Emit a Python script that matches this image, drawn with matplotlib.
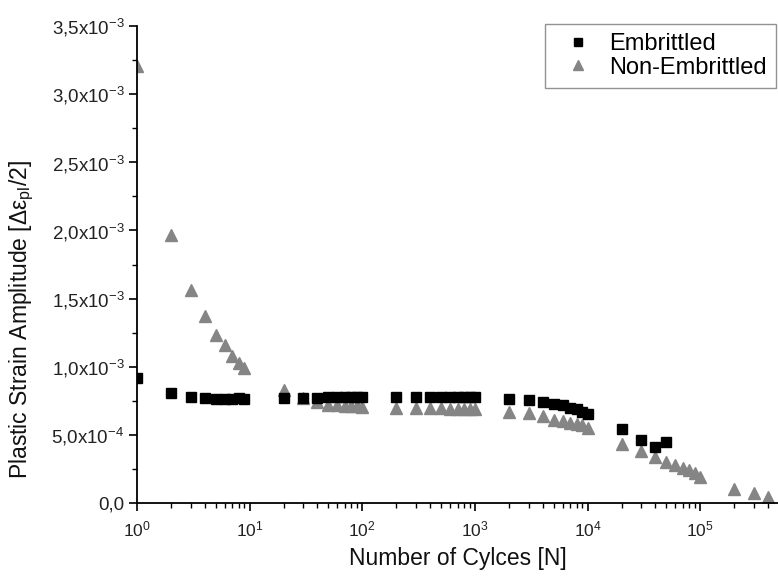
import matplotlib
matplotlib.use("Agg")
import matplotlib.pyplot as plt
from matplotlib.ticker import FixedLocator, LogLocator, NullFormatter

plt.rcParams['font.family'] = ['Liberation Sans', 'DejaVu Sans']
plt.rcParams['mathtext.fontset'] = 'custom'
plt.rcParams['mathtext.rm'] = 'Liberation Sans'
plt.rcParams['mathtext.it'] = 'Liberation Sans'

# Embrittled
emb_n = [1, 2, 3, 4, 5, 6, 7, 8, 9,
         20, 30, 40, 50, 60, 70, 80, 90, 100,
         200, 300, 400, 500, 600, 700, 800, 900, 1000,
         2000, 3000, 4000, 5000, 6000, 7000, 8000, 9000, 10000,
         20000, 30000, 40000, 50000]
emb_v = [0.92e-3, 0.81e-3, 0.78e-3, 0.77e-3, 0.76e-3, 0.765e-3, 0.765e-3, 0.77e-3, 0.765e-3,
         0.77e-3, 0.77e-3, 0.77e-3, 0.78e-3, 0.78e-3, 0.78e-3, 0.78e-3, 0.78e-3, 0.78e-3,
         0.78e-3, 0.78e-3, 0.78e-3, 0.78e-3, 0.775e-3, 0.775e-3, 0.775e-3, 0.775e-3, 0.775e-3,
         0.76e-3, 0.755e-3, 0.74e-3, 0.73e-3, 0.72e-3, 0.70e-3, 0.69e-3, 0.67e-3, 0.65e-3,
         0.54e-3, 0.46e-3, 0.41e-3, 0.45e-3]

# Non-Embrittled
non_n = [1, 2, 3, 4, 5, 6, 7, 8, 9,
         20, 30, 40, 50, 60, 70, 80, 90, 100,
         200, 300, 400, 500, 600, 700, 800, 900, 1000,
         2000, 3000, 4000, 5000, 6000, 7000, 8000, 9000, 10000,
         20000, 30000, 40000, 50000, 60000, 70000, 80000, 90000, 100000,
         200000, 300000, 400000]
non_v = [3.21e-3, 1.97e-3, 1.56e-3, 1.37e-3, 1.23e-3, 1.16e-3, 1.08e-3, 1.03e-3, 0.99e-3,
         0.83e-3, 0.77e-3, 0.74e-3, 0.72e-3, 0.72e-3, 0.715e-3, 0.71e-3, 0.71e-3, 0.705e-3,
         0.70e-3, 0.70e-3, 0.695e-3, 0.695e-3, 0.69e-3, 0.69e-3, 0.69e-3, 0.69e-3, 0.69e-3,
         0.665e-3, 0.66e-3, 0.635e-3, 0.61e-3, 0.60e-3, 0.59e-3, 0.58e-3, 0.57e-3, 0.55e-3,
         0.43e-3, 0.38e-3, 0.34e-3, 0.30e-3, 0.28e-3, 0.26e-3, 0.24e-3, 0.22e-3, 0.19e-3,
         0.10e-3, 0.07e-3, 0.045e-3]

y_ticks = [0, 0.5e-3, 1.0e-3, 1.5e-3, 2.0e-3, 2.5e-3, 3.0e-3, 3.5e-3]
y_labels = ['0,0', '5,0x10$^{-4}$', '1,0x10$^{-3}$', '1,5x10$^{-3}$', '2,0x10$^{-3}$',
            '2,5x10$^{-3}$', '3,0x10$^{-3}$', '3,5x10$^{-3}$']

W, H = 778, 581
fig = plt.figure(figsize=(W / 100, H / 100), dpi=100)
ax = fig.add_axes([137 / W, 1 - 503 / H, 1 - 137 / W, (503 - 26) / H])

ax.plot(emb_n, emb_v, linestyle='none', marker='s', markersize=7, color='black',
        label='Embrittled', zorder=3)
ax.plot(non_n, non_v, linestyle='none', marker='^', markersize=8.5, color='#858585',
        label='Non-Embrittled', zorder=2)

ax.set_xscale('log')
ax.set_xlim(1, 4.9e5)
ax.set_ylim(0, 3.5e-3)

ax.yaxis.set_major_locator(FixedLocator(y_ticks))
ax.set_yticklabels(y_labels)
ax.yaxis.set_minor_locator(FixedLocator([0.25e-3 + 0.5e-3 * i for i in range(7)]))
ax.xaxis.set_major_locator(LogLocator(base=10, numticks=10))
ax.xaxis.set_minor_locator(LogLocator(base=10, subs=range(2, 10), numticks=20))
ax.xaxis.set_minor_formatter(NullFormatter())

for s in ['top', 'right']:
    ax.spines[s].set_visible(False)
for s in ['left', 'bottom']:
    ax.spines[s].set_linewidth(1.3)

ax.tick_params(which='major', direction='out', length=6, width=1.2, colors='black')
ax.tick_params(which='minor', direction='out', length=3.5, width=1.0)
ax.tick_params(axis='y', labelcolor='#222222', labelsize=13.5, pad=3)
ax.tick_params(axis='x', labelcolor='#222222', labelsize=12.5, pad=6)

ax.set_xlabel('Number of Cylces [N]', fontsize=16.5, color='#111111', labelpad=5)
fig.text(22 / W, 1 - 320 / H, 'Plastic Strain Amplitude [Δε$_{\\mathregular{pl}}$/2]',
         fontsize=16.5, color='#111111', rotation=90, ha='center', va='center')

leg = ax.legend(loc='upper right', bbox_to_anchor=(776 / W, 1 - 24 / H),
                bbox_transform=fig.transFigure, borderaxespad=0, fontsize=17,
                frameon=True, fancybox=False, edgecolor='#777777', borderpad=0.4,
                handletextpad=0.3, labelspacing=0.05, markerscale=0.8, handlelength=2.0)
leg.get_frame().set_linewidth(1.0)

fig.savefig('out.png', dpi=100)
